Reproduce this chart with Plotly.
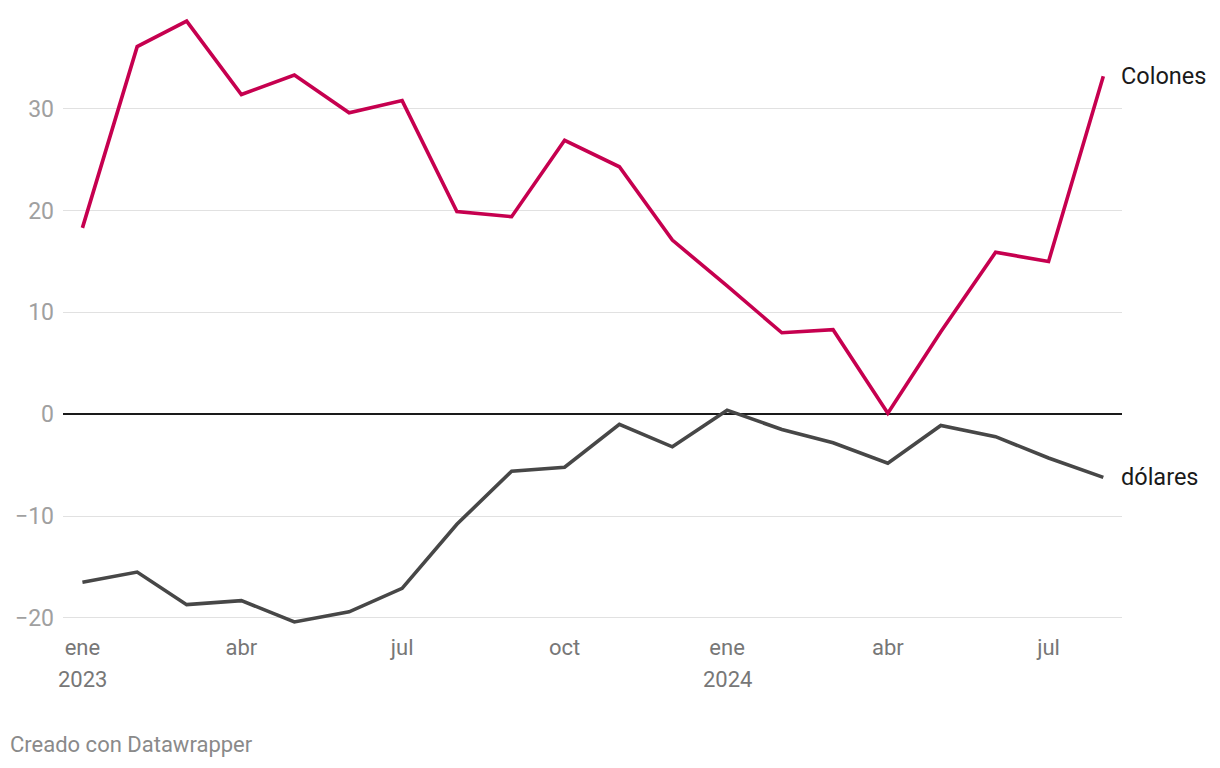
import plotly.graph_objects as go

months = ["2023-01-01","2023-02-01","2023-03-01","2023-04-01","2023-05-01","2023-06-01",
          "2023-07-01","2023-08-01","2023-09-01","2023-10-01","2023-11-01","2023-12-01",
          "2024-01-01","2024-02-01","2024-03-01","2024-04-01","2024-05-01","2024-06-01",
          "2024-07-01","2024-08-01"]
colones = [18.3, 36.1, 38.6, 31.4, 33.3, 29.6, 30.8, 19.9, 19.4, 26.9, 24.3, 17.1,
           12.6, 8.0, 8.3, 0.1, 8.1, 15.9, 15.0, 33.2]
dolares = [-16.5, -15.5, -18.7, -18.3, -20.4, -19.4, -17.1, -10.8, -5.6, -5.2, -1.0, -3.2,
           0.4, -1.5, -2.8, -4.8, -1.1, -2.2, -4.3, -6.2]
tick_dates = ["2023-01-01","2023-04-01","2023-07-01","2023-10-01","2024-01-01","2024-04-01","2024-07-01"]
tick_labels = ["ene","abr","jul","oct","ene","abr","jul"]
year_dates = ["2023-01-01", "2024-01-01"]
year_labels = ["2023", "2024"]
y_ticks = [-20, -10, 0, 10, 20, 30]

RED = "#c6004f"
GREY = "#474747"
FONT = "Roboto"

fig = go.Figure()
fig.add_trace(go.Scatter(x=months, y=dolares, mode="lines", line=dict(color=GREY, width=3.6),
                         hoverinfo="skip"))
fig.add_trace(go.Scatter(x=months, y=colones, mode="lines", line=dict(color=RED, width=3.6),
                         hoverinfo="skip"))

fig.add_annotation(x=months[-1], y=colones[-1], text="Colones", showarrow=False,
                   xanchor="left", yanchor="middle", xshift=16,
                   font=dict(family=FONT, size=23.5, color="#1a1a1a"))
fig.add_annotation(x=months[-1], y=dolares[-1], text="dólares", showarrow=False,
                   xanchor="left", yanchor="middle", xshift=16,
                   font=dict(family=FONT, size=23.5, color="#1a1a1a"))
for d, t in zip(year_dates, year_labels):
    fig.add_annotation(x=d, y=0, yref="paper", text=t, showarrow=False,
                       xanchor="center", yanchor="middle", yshift=-55,
                       font=dict(family=FONT, size=22, color="#777777"))
fig.add_annotation(x=0, y=0, xref="paper", yref="paper", text="Creado con Datawrapper",
                   showarrow=False, xanchor="left", yanchor="middle", xshift=-55, yshift=-120,
                   font=dict(family=FONT, size=22, color="#8a8a8a"))

fig.update_layout(
    width=1220, height=768,
    margin=dict(l=55, r=106, t=4, b=152),
    paper_bgcolor="white", plot_bgcolor="white",
    showlegend=False,
    font=dict(family=FONT),
    xaxis=dict(range=["2022-12-21", "2024-08-11 14:00"], tickvals=tick_dates, ticktext=tick_labels,
               showgrid=False, zeroline=False, showline=False, ticks="", ticklabelstandoff=8,
               tickfont=dict(family=FONT, size=22, color="#777777")),
    yaxis=dict(range=[-20.6, 39.5], tickvals=y_ticks, showgrid=True, gridcolor="#e1e1e1",
               gridwidth=1, zeroline=True, zerolinecolor="#1a1a1a", zerolinewidth=2,
               showline=False, ticks="", ticklabelstandoff=8,
               tickfont=dict(family=FONT, size=23, color="#a0a0a0")),
)
fig.write_html("out.html")
